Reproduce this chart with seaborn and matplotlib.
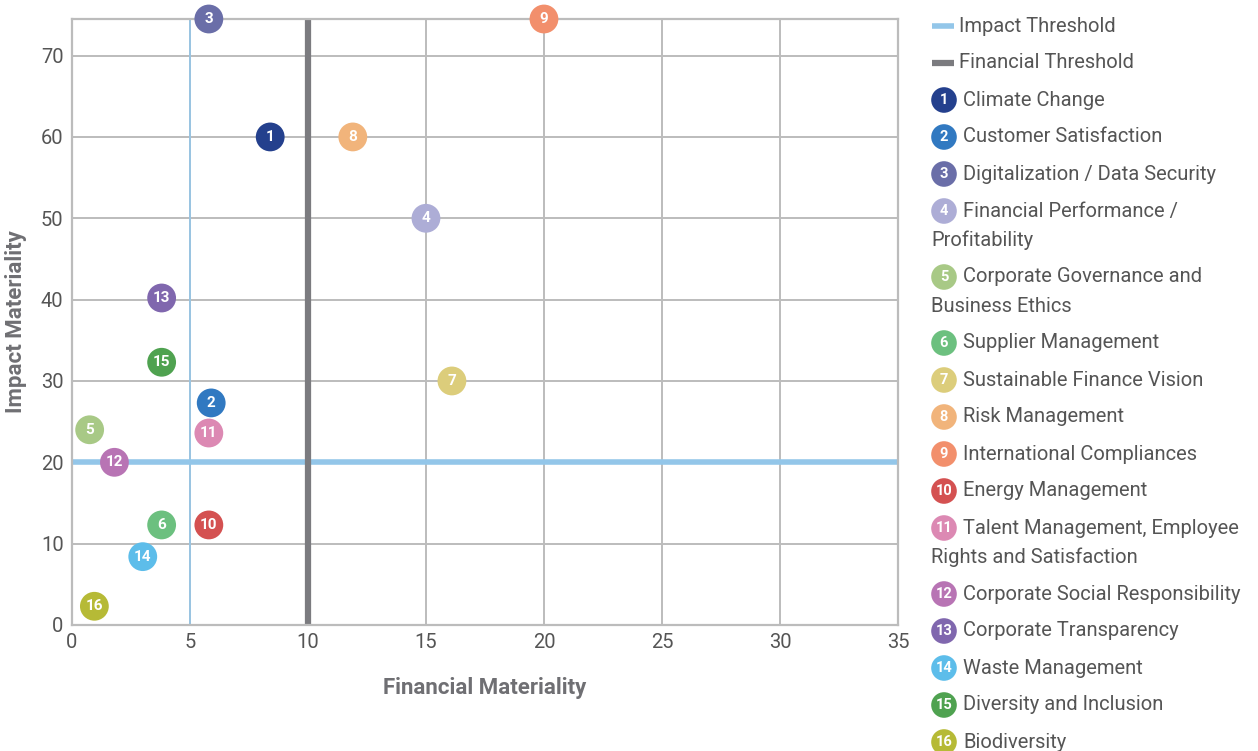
import matplotlib
matplotlib.use("Agg")
import matplotlib.pyplot as plt
import seaborn as sns
import pandas as pd

# Material topics and their scores
topic_ids = list(range(1, 17))
topics = [
    "Climate Change",
    "Customer Satisfaction",
    "Digitalization / Data Security",
    "Financial Performance /\nProfitability",
    "Corporate Governance and\nBusiness Ethics",
    "Supplier Management",
    "Sustainable Finance Vision",
    "Risk Management",
    "International Compliances",
    "Energy Management",
    "Talent Management, Employee\nRights and Satisfaction",
    "Corporate Social Responsibility",
    "Corporate Transparency",
    "Waste Management",
    "Diversity and Inclusion",
    "Biodiversity",
]
financial = [8.4, 5.9, 5.8, 15.0, 0.75, 3.8, 16.1, 11.9, 20.0, 5.8, 5.8, 1.8, 3.8, 3.0, 3.8, 0.95]
impact = [60.0, 27.3, 74.5, 50.0, 24.0, 12.3, 30.0, 60.0, 74.5, 12.3, 23.6, 20.0, 40.2, 8.4, 32.3, 2.3]
colors = [
    "#24408d", "#3179c1", "#6a6ea8", "#adadd6", "#a8c986", "#6cc07f",
    "#dccd7b", "#f1b47b", "#f28f6c", "#d45151", "#dc89b3", "#b874b4",
    "#8067ae", "#5dbdea", "#4fa250", "#b6ba36",
]

impact_threshold = 20
impact_threshold_x = 5
financial_threshold = 10

x_ticks = [0, 5, 10, 15, 20, 25, 30, 35]
y_ticks = [0, 10, 20, 30, 40, 50, 60, 70]

df = pd.DataFrame({"id": [str(i) for i in topic_ids], "topic": topics,
                   "financial": financial, "impact": impact})

sns.set_style("white")
plt.rcParams["font.family"] = ["Roboto", "DejaVu Sans"]

fig = plt.figure(figsize=(12.58, 7.51), dpi=100)
ax = fig.add_axes([0.0572, 0.1678, 0.6566, 0.8069])

text_gray = "#555555"
grid_gray = "#bcbcbc"
impact_blue = "#93c6e9"
fin_gray = "#7b7b7f"

# grid and frame
ax.set_xlim(0, 35)
ax.set_ylim(0, 74.5)
ax.set_xticks(x_ticks)
ax.set_yticks(y_ticks)
ax.grid(True, color=grid_gray, linewidth=1.4, zorder=0)
for s in ax.spines.values():
    s.set_color(grid_gray)
    s.set_linewidth(1.6)
ax.tick_params(axis="both", length=0, labelsize=14.5, labelcolor=text_gray, pad=6)

# thresholds
ax.axhline(impact_threshold, color=impact_blue, linewidth=4, zorder=2)
ax.axvline(impact_threshold_x, color=impact_blue, linewidth=1.2, zorder=2)
ax.axvline(financial_threshold, color=fin_gray, linewidth=4.5, zorder=2)

# topic bubbles
sns.scatterplot(data=df, x="financial", y="impact", hue="id", palette=colors,
                s=430, edgecolor="none", legend=False, ax=ax, zorder=4, clip_on=False)
for _, r in df.iterrows():
    ax.text(r["financial"], r["impact"], r["id"], ha="center", va="center",
            color="white", fontsize=11, fontweight="bold", zorder=5, clip_on=False)

ax.set_xlabel("Financial Materiality", fontsize=16, color="#6f6f73", fontweight="bold", labelpad=18)
ax.set_ylabel("Impact Materiality", fontsize=16, color="#6f6f73", fontweight="bold", labelpad=10)

# legend panel
lg = fig.add_axes([0, 0, 1, 1], facecolor="none")
lg.set_xlim(0, 1258)
lg.set_ylim(751, 0)
lg.axis("off")

fs = 14.5
lg.plot([932, 954], [26, 26], color=impact_blue, linewidth=4, solid_capstyle="butt")
lg.text(959, 26, "Impact Threshold", fontsize=fs, color=text_gray, va="center")
lg.plot([932, 954], [63, 63], color=fin_gray, linewidth=4.5, solid_capstyle="butt")
lg.text(959, 63, "Financial Threshold", fontsize=fs, color=text_gray, va="center")

y = 100
for tid, name, col in zip(topic_ids, topics, colors):
    lg.scatter([944], [y], s=340, color=col, edgecolor="none")
    lg.text(944, y, str(tid), ha="center", va="center", color="white", fontsize=10.5, fontweight="bold")
    lines = name.split("\n")
    lg.text(963, y, lines[0], fontsize=fs, color=text_gray, va="center")
    for extra in lines[1:]:
        y += 29
        lg.text(931, y, extra, fontsize=fs, color=text_gray, va="center")
    y += 37

fig.savefig("out.png", dpi=100)
